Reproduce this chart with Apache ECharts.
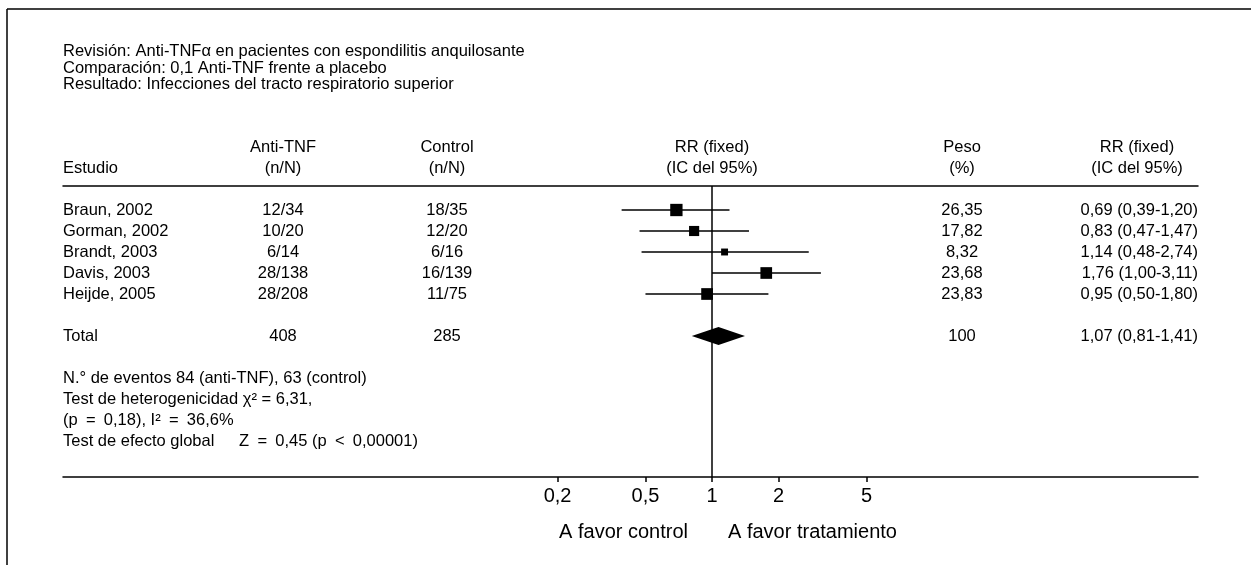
<!DOCTYPE html>
<html>
<head>
<meta charset="utf-8">
<script src="https://cdn.jsdelivr.net/npm/echarts@6/dist/echarts.min.js"></script>
<style>
html, body { margin: 0; padding: 0; background: #fff; }
#main { width: 1251px; height: 565px; }
</style>
</head>
<body>
<div id="main"></div>
<script>
// datos del forest plot
var studies = ['Braun, 2002', 'Gorman, 2002', 'Brandt, 2003', 'Davis, 2003', 'Heijde, 2005'];
var antiTnf = ['12/34', '10/20', '6/14', '28/138', '28/208'];
var control = ['18/35', '12/20', '6/16', '16/139', '11/75'];
var weights = [26.35, 17.82, 8.32, 23.68, 23.83];
var rr = [0.69, 0.83, 1.14, 1.76, 0.95];
var ciLow = [0.39, 0.47, 0.48, 1.00, 0.50];
var ciHigh = [1.20, 1.47, 2.74, 3.11, 1.80];
var totalAnti = 408, totalControl = 285, totalWeight = 100;
var totalRR = 1.07, totalLow = 0.81, totalHigh = 1.41;
var tickValues = [0.2, 0.5, 1, 2, 5];
var notes = [
	'N.\u00b0 de eventos 84 (anti-TNF), 63 (control)',
	'Test de heterogenicidad \u03c7\u00b2 = 6,31,',
	'(p\u2002=\u20020,18), I\u00b2\u2002=\u200236,6%',
	'Test de efecto global\u2003\u2002Z\u2002=\u20020,45 (p\u2002<\u20020,00001)'
];
var titleLines = [
	'Revisi\u00f3n: Anti-TNF\u03b1 en pacientes con espondilitis anquilosante',
	'Comparaci\u00f3n: 0,1 Anti-TNF frente a placebo',
	'Resultado: Infecciones del tracto respiratorio superior'
];

// layout
var FONT = '"Liberation Sans", Arial, sans-serif';
var FS = 16.5;
var ROW0 = 210, ROWH = 21;
var GTOP = 186, GBOT = 477, GLEFT = 63, GRIGHT = 1198;
var X1 = 712, DEC = 221;
var TOTAL_ROW = 6;

function fmt2(v) { return v.toFixed(2).replace('.', ','); }
function fmtW(v) { return Number.isInteger(v) ? String(v) : fmt2(v); }
function fmtRR(e, lo, hi) { return fmt2(e) + ' (' + fmt2(lo) + '-' + fmt2(hi) + ')'; }
function log10(v) { return Math.log(v) / Math.LN10; }

var rowsIdx = studies.map(function (s, i) { return i; });
var rrTexts = rr.map(function (v, i) { return fmtRR(v, ciLow[i], ciHigh[i]); });

function cells(x, align, rows, texts) {
	return {
		type: 'scatter',
		xAxisIndex: 2,
		yAxisIndex: 1,
		symbolSize: 0,
		silent: true,
		clip: false,
		itemStyle: { opacity: 1 },
		data: texts.map(function (t, i) { return [x, rows[i], t]; }),
		label: {
			show: true,
			position: [0, 0],
			align: align,
			verticalAlign: 'middle',
			formatter: function (p) { return p.value[2]; },
			color: '#000',
			opacity: 1,
			fontFamily: FONT,
			fontSize: FS
		}
	};
}

var myChart = echarts.init(document.getElementById('main'));
var option = {
	backgroundColor: '#fff',
	animation: false,
	grid: [
		{ left: GLEFT, right: 1251 - GRIGHT, top: GTOP, bottom: 565 - GBOT },
		{ left: 0, right: 0, top: 0, bottom: 0 }
	],
	xAxis: [
		{
			type: 'value',
			gridIndex: 0,
			position: 'bottom',
			min: -(X1 - GLEFT) / DEC,
			max: (GRIGHT - X1) / DEC,
			axisLine: { show: true, onZero: false, lineStyle: { color: '#000', width: 1.5 } },
			axisTick: { show: true, length: 5, lineStyle: { color: '#000', width: 1.5 },
				customValues: tickValues.map(log10) },
			axisLabel: {
				show: true, margin: 9, color: '#000', fontFamily: FONT, fontSize: 20,
				customValues: tickValues.map(log10),
				formatter: function (v) { return String(+Math.pow(10, v).toPrecision(3)).replace('.', ','); }
			},
			splitLine: { show: false }
		},
		{
			type: 'value',
			gridIndex: 0,
			position: 'top',
			min: -(X1 - GLEFT) / DEC,
			max: (GRIGHT - X1) / DEC,
			axisLine: { show: true, onZero: false, lineStyle: { color: '#000', width: 1.5 } },
			axisTick: { show: false },
			axisLabel: { show: false },
			splitLine: { show: false }
		},
		{
			type: 'value', gridIndex: 1, min: 0, max: 1251, show: false
		}
	],
	yAxis: [
		{
			type: 'value', gridIndex: 0, inverse: true,
			min: (GTOP - ROW0) / ROWH, max: (GBOT - ROW0) / ROWH, show: false
		},
		{
			type: 'value', gridIndex: 1, inverse: true,
			min: -ROW0 / ROWH, max: (565 - ROW0) / ROWH, show: false
		}
	],
	series: [
		{
			type: 'custom',
			xAxisIndex: 0,
			yAxisIndex: 0,
			silent: true,
			data: rr.map(function (v, i) { return [log10(ciLow[i]), log10(ciHigh[i]), log10(v), i, weights[i]]; }),
			encode: { x: [0, 1, 2], y: 3 },
			renderItem: function (params, api) {
				var a = api.coord([api.value(0), api.value(3)]);
				var b = api.coord([api.value(1), api.value(3)]);
				var c = api.coord([api.value(2), api.value(3)]);
				var s = 2.4 * Math.sqrt(api.value(4));
				return {
					type: 'group',
					children: [
						{ type: 'line', shape: { x1: a[0], y1: a[1], x2: b[0], y2: b[1] }, style: { stroke: '#000', lineWidth: 1.5 } },
						{ type: 'rect', shape: { x: c[0] - s / 2, y: c[1] - s / 2, width: s, height: s }, style: { fill: '#000' } }
					]
				};
			}
		},
		{
			type: 'custom',
			xAxisIndex: 0,
			yAxisIndex: 0,
			silent: true,
			data: [[log10(totalLow), log10(totalHigh), log10(totalRR), TOTAL_ROW]],
			encode: { x: [0, 1, 2], y: 3 },
			renderItem: function (params, api) {
				var a = api.coord([api.value(0), api.value(3)]);
				var b = api.coord([api.value(1), api.value(3)]);
				var c = api.coord([api.value(2), api.value(3)]);
				var h = 9;
				return {
					type: 'polygon',
					shape: { points: [[a[0], a[1]], [c[0], c[1] - h], [b[0], b[1]], [c[0], c[1] + h]] },
					style: { fill: '#000' }
				};
			},
			markLine: {
				silent: true,
				symbol: 'none',
				label: { show: false },
				lineStyle: { color: '#000', width: 1.5, type: 'solid' },
				data: [{ xAxis: 0 }]
			}
		},
		// cabeceras
		cells(283, 'center', [-3, -2], ['Anti-TNF', '(n/N)']),
		cells(447, 'center', [-3, -2], ['Control', '(n/N)']),
		cells(712, 'center', [-3, -2], ['RR (fixed)', '(IC del 95%)']),
		cells(962, 'center', [-3, -2], ['Peso', '(%)']),
		cells(1137, 'center', [-3, -2], ['RR (fixed)', '(IC del 95%)']),
		cells(GLEFT, 'left', [-2], ['Estudio']),
		// filas de estudios
		cells(GLEFT, 'left', rowsIdx.concat([TOTAL_ROW]), studies.concat(['Total'])),
		cells(283, 'center', rowsIdx.concat([TOTAL_ROW]), antiTnf.concat([String(totalAnti)])),
		cells(447, 'center', rowsIdx.concat([TOTAL_ROW]), control.concat([String(totalControl)])),
		cells(962, 'center', rowsIdx.concat([TOTAL_ROW]), weights.map(fmtW).concat([fmtW(totalWeight)])),
		cells(GRIGHT, 'right', rowsIdx.concat([TOTAL_ROW]), rrTexts.concat([fmtRR(totalRR, totalLow, totalHigh)])),
		// notas
		cells(GLEFT, 'left', [8, 9, 10, 11], notes)
	],
	graphic: [
		{ type: 'line', shape: { x1: 7, y1: 9, x2: 1251, y2: 9 }, style: { stroke: '#000', lineWidth: 1.5 } },
		{ type: 'line', shape: { x1: 7, y1: 9, x2: 7, y2: 565 }, style: { stroke: '#000', lineWidth: 1.5 } },
		{
			type: 'text', left: GLEFT, top: 43,
			style: { text: titleLines.join('\n'), fill: '#000', font: FS + 'px ' + FONT, lineHeight: 16.5 }
		},
		{
			type: 'text', right: 1251 - 688, top: 522,
			style: { text: 'A favor control', fill: '#000', font: '20px ' + FONT }
		},
		{
			type: 'text', left: 728, top: 522,
			style: { text: 'A favor tratamiento', fill: '#000', font: '20px ' + FONT }
		}
	]
};
myChart.setOption(option);
</script>
</body>
</html>
